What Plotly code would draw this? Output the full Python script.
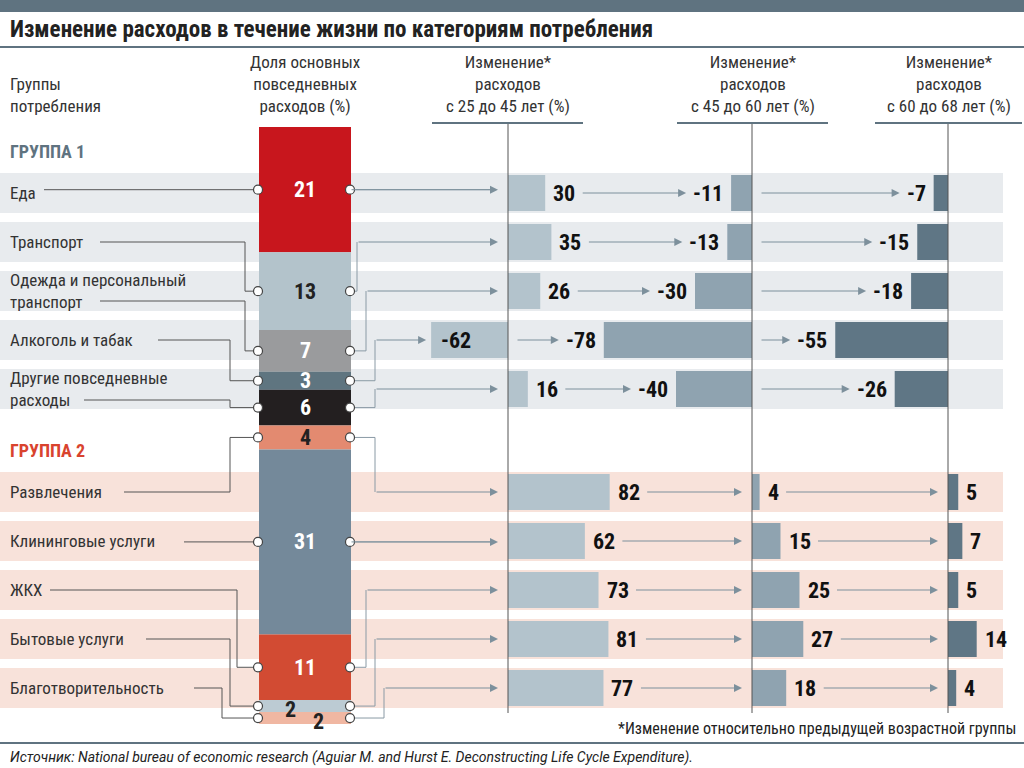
import plotly.graph_objects as go

# данные
categories = ["Еда", "Транспорт", "Одежда и персональный<br>транспорт", "Алкоголь и табак",
              "Другие повседневные<br>расходы",
              "Развлечения", "Клининговые услуги", "ЖКХ", "Бытовые услуги", "Благотворительность"]
share = [21, 13, 7, 3, 6, 4, 31, 11, 2, 2]
chg_25_45 = [30, 35, 26, -62, 16, 82, 62, 73, 81, 77]
chg_45_60 = [-11, -13, -30, -78, -40, 4, 15, 25, 27, 18]
chg_60_68 = [-7, -15, -18, -55, -26, 5, 7, 5, 14, 4]
share_colors = ["#c8161d", "#b3c3cb", "#9a9b9d", "#5f7580", "#231f20",
                "#e38a70", "#74899a", "#d24b33", "#bccbd3", "#f0b7a2"]
share_text = ["white", "#222", "white", "white", "white", "#222", "white", "white", "#222", "#222"]

FONT = "Liberation Sans Narrow, Roboto Condensed, Roboto, sans-serif"
row_y = [193 + 49 * i for i in range(5)] + [492 + 49 * i for i in range(5)]
zeros = [508, 752, 948]
scales = [1.24, 1.9, 2.05]
bar_cols = ["#b3c3cc", "#8fa3b0", "#5f7685"]
cols = [chg_25_45, chg_45_60, chg_60_68]

fig = go.Figure()
shapes = []
ann = []

# полосы фона
for i, y in enumerate(row_y):
    shapes.append(dict(type="rect", x0=0, x1=1003, y0=y - 20, y1=y + 20, layer="below",
                       line_width=0, fillcolor="#e8ebee" if i < 5 else "#f8e2da"))

# столбец долей
top, k = 127, 5.97
bases, centers = [], []
acc = top
for v in share:
    bases.append(acc)
    centers.append(acc + v * k / 2)
    acc += v * k
fig.add_trace(go.Bar(x=[305] * len(share), y=[v * k for v in share], base=bases, width=92,
                     marker=dict(color=share_colors, line_width=0), hoverinfo="skip"))
for i, v in enumerate(share):
    dx = 0
    if i == 8:
        dx = -15
    if i == 9:
        dx = 13
    ann.append(dict(x=305 + dx, y=centers[i] + (3 if i >= 8 else 0), text="<b>%d</b>" % v,
                    showarrow=False, font=dict(family=FONT, size=22, color=share_text[i])))

# горизонтальные столбцы
for c in range(3):
    fig.add_trace(go.Bar(y=row_y, x=[v * scales[c] for v in cols[c]], base=zeros[c], width=36,
                         orientation="h", marker=dict(color=bar_cols[c], line_width=0), hoverinfo="skip"))

def lab_w(v):
    return len(str(v)) * 11

label_end = {}
for c in range(3):
    for i, v in enumerate(cols[c]):
        end = zeros[c] + v * scales[c]
        if v >= 0:
            ann.append(dict(x=end + 6, y=row_y[i], text="<b>%d</b>" % v, xanchor="left", showarrow=False,
                            font=dict(family=FONT, size=22, color="#111")))
            label_end[(c, i)] = end + 6 + lab_w(v)
        elif c == 0 and v < -40:
            ann.append(dict(x=end + 8, y=row_y[i], text="<b>%d</b>" % v, xanchor="left", showarrow=False,
                            font=dict(family=FONT, size=22, color="#111")))
            label_end[(c, i)] = zeros[c]
        else:
            ann.append(dict(x=end - 6, y=row_y[i], text="<b>%d</b>" % v, xanchor="right", showarrow=False,
                            font=dict(family=FONT, size=22, color="#111")))
            label_end[(c, i)] = zeros[c]

def tip(c, i):
    v = cols[c][i]
    if v >= 0:
        return zeros[c] - 10
    if c == 0 and v < -40:
        return zeros[c] + v * scales[c] - 5
    return zeros[c] + v * scales[c] - 6 - lab_w(v) - 6

def arrow(x0, x1, y):
    ann.append(dict(x=x1, y=y, ax=x0, ay=y, axref="x", ayref="y", xref="x", yref="y", text="",
                    showarrow=True, arrowhead=2, arrowsize=1.6, arrowwidth=1, arrowcolor="#7d909c"))

for i, y in enumerate(row_y):
    for c in (1, 2):
        arrow(label_end[(c - 1, i)] + 8, tip(c, i), y)

# соединители
line_c = "#555"
left_start = [44, 100, 100, 158, 84, 124, 184, 50, 146, 194]
left_elbow = [None, 245, 245, 230, 230, 230, None, 237, 230, 222]
left_y = [row_y[0], row_y[1], 301, row_y[3], 400, row_y[5], row_y[6], row_y[7], row_y[8], row_y[9]]
right_elbow = [None, 357, 366, 375, 375, 375, None, 366, 375, 384]
for i in range(10):
    cy = centers[i]
    if left_elbow[i] is None:
        pts = [(left_start[i], cy), (258, cy)]
    else:
        pts = [(left_start[i], left_y[i]), (left_elbow[i], left_y[i]), (left_elbow[i], cy), (258, cy)]
    path = "M" + " L".join("%g,%g" % p for p in pts)
    shapes.append(dict(type="path", path=path, line=dict(color=line_c, width=1)))
    t = tip(0, i)
    if right_elbow[i] is None:
        path = "M350,%g L%g,%g" % (cy, t - 8, cy)
        arrow(350, t, cy)
    else:
        path = "M350,%g L%g,%g L%g,%g" % (cy, right_elbow[i], cy, right_elbow[i], row_y[i])
        arrow(right_elbow[i], t, row_y[i])
    shapes.append(dict(type="path", path=path, line=dict(color="#8a9aa5", width=1)))
    for x in (258, 350):
        shapes.append(dict(type="circle", x0=x - 4.5, x1=x + 4.5, y0=cy - 4.5, y1=cy + 4.5,
                           fillcolor="white", line=dict(color="#444", width=1.2)))

# оси и заголовки колонок
hdr = ["Изменение*<br>расходов<br>с 25 до 45 лет (%)", "Изменение*<br>расходов<br>с 45 до 60 лет (%)",
       "Изменение*<br>расходов<br>с 60 до 68 лет (%)"]
under = [(432, 583), (677, 828), (875, 1022)]
for c in range(3):
    shapes.append(dict(type="line", x0=zeros[c], x1=zeros[c], y0=123, y1=713, line=dict(color="#555", width=1)))
    shapes.append(dict(type="line", x0=under[c][0], x1=under[c][1], y0=123, y1=123,
                       line=dict(color="#5f7380", width=2)))
    ann.append(dict(x=(under[c][0] + under[c][1]) / 2, y=84, text=hdr[c], showarrow=False,
                    font=dict(family=FONT, size=17, color="#333")))
ann.append(dict(x=305, y=84, text="Доля основных<br>повседневных<br>расходов (%)", showarrow=False,
                font=dict(family=FONT, size=17, color="#333")))
ann.append(dict(x=8, y=95, text="Группы<br>потребления", showarrow=False, xanchor="left", align="left",
                font=dict(family=FONT, size=17, color="#333")))
ann.append(dict(x=8, y=151, text="<b>ГРУППА 1</b>", showarrow=False, xanchor="left",
                font=dict(family=FONT, size=18, color="#5f7380")))
ann.append(dict(x=8, y=450, text="<b>ГРУППА 2</b>", showarrow=False, xanchor="left",
                font=dict(family=FONT, size=18, color="#d9432e")))
for i, name in enumerate(categories):
    ann.append(dict(x=8, y=row_y[i], text=name, showarrow=False, xanchor="left", align="left",
                    font=dict(family=FONT, size=17, color="#333")))

# шапка и подвал
shapes.append(dict(type="rect", x0=0, x1=1024, y0=0, y1=12, fillcolor="#5f7380", line_width=0))
shapes.append(dict(type="line", x0=0, x1=1024, y0=47, y1=47, line=dict(color="#5f7380", width=2)))
shapes.append(dict(type="line", x0=0, x1=1024, y0=743, y1=743, line=dict(color="#5f7380", width=2)))
ann.append(dict(x=8, y=29, text="<b>Изменение расходов в течение жизни по категориям потребления</b>",
                showarrow=False, xanchor="left", font=dict(family=FONT, size=23, color="#222")))
ann.append(dict(x=1018, y=728, text="*Изменение относительно предыдущей возрастной группы",
                showarrow=False, xanchor="right", font=dict(family=FONT, size=16, color="#222")))
ann.append(dict(x=8, y=757, text="<i>Источник: National bureau of economic research (Aguiar M. and Hurst E. "
                "Deconstructing Life Cycle Expenditure).</i>", showarrow=False, xanchor="left",
                font=dict(family="Roboto, sans-serif", size=14, color="#222")))

fig.update_layout(
    width=1024, height=768, margin=dict(l=0, r=0, t=0, b=0),
    plot_bgcolor="white", paper_bgcolor="white", showlegend=False, barmode="overlay",
    xaxis=dict(range=[0, 1024], visible=False, fixedrange=True),
    yaxis=dict(range=[768, 0], visible=False, fixedrange=True),
    shapes=shapes, annotations=ann,
)
fig.write_html("out.html", config={"displayModeBar": False},
               post_script="document.body.style.margin='0';document.body.style.overflow='hidden';")
